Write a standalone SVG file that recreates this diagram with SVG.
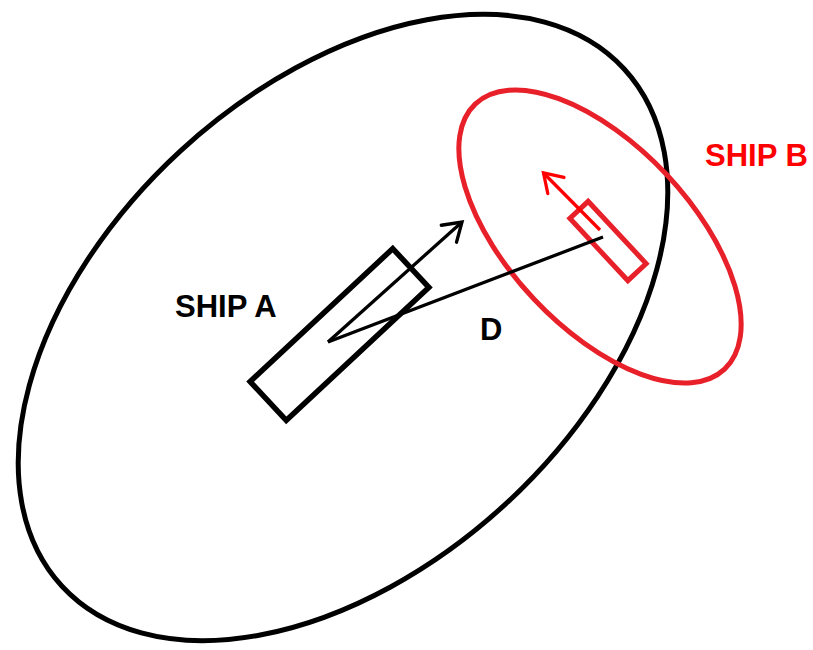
<svg xmlns="http://www.w3.org/2000/svg" width="813" height="650" viewBox="0 0 813 650">
  <style>
    .zoneA { fill: none; stroke: #000; stroke-width: 5; }
    .zoneB { fill: none; stroke: #e8202a; stroke-width: 5; }
    .shipA { fill: none; stroke: #000; stroke-width: 5.5; stroke-linejoin: miter; }
    .shipB { fill: none; stroke: #e8202a; stroke-width: 5; stroke-linejoin: miter; }
    .conn { fill: none; stroke: #000; stroke-width: 3.3; }
    .connB { fill: none; stroke: #ff0000; stroke-width: 3.3; }
    .lbl { font-family: "Liberation Sans", Arial, sans-serif; font-weight: bold; font-size: 31px; }
  </style>
  <defs>
    <marker id="arrBlack" markerUnits="userSpaceOnUse" markerWidth="40" markerHeight="40" refX="0" refY="0" viewBox="-25 -20 30 40" orient="auto" overflow="visible">
      <path d="M-17.6,-11.4 L0,0 L-17.6,11.4" fill="none" stroke="#000" stroke-width="3.3" stroke-linejoin="miter" stroke-linecap="round"/>
    </marker>
    <marker id="arrRed" markerUnits="userSpaceOnUse" markerWidth="40" markerHeight="40" refX="0" refY="0" viewBox="-25 -20 30 40" orient="auto" overflow="visible">
      <path d="M-17.6,-11.4 L0,0 L-17.6,11.4" fill="none" stroke="#ff0000" stroke-width="3.3" stroke-linejoin="miter" stroke-linecap="round"/>
    </marker>
  </defs>
  <rect width="813" height="650" fill="#fff"/>
  <g id="zoneA">
    <ellipse class="zoneA" cx="343" cy="327.5" rx="382" ry="240" transform="rotate(-42.6 343 327.5)"/>
  </g>
  <g id="zoneB">
    <ellipse class="zoneB" cx="600" cy="236.5" rx="182" ry="91" transform="rotate(46.8 600 236.5)"/>
  </g>
  <g id="shipA">
    <rect class="shipA" x="242" y="308" width="195" height="53" transform="rotate(-43 339.5 334.5)"/>
  </g>
  <g id="shipB">
    <rect class="shipB" x="565.5" y="228.5" width="85" height="25" transform="rotate(47 608 241)"/>
  </g>
  <g id="connectors">
    <line class="conn" x1="328" y1="342" x2="462" y2="222" marker-end="url(#arrBlack)"/>
    <line class="conn" x1="328" y1="342" x2="603" y2="237"/>
    <line class="connB" x1="600" y1="230" x2="543.5" y2="173" marker-end="url(#arrRed)"/>
  </g>
  <g id="labels">
    <text class="lbl" x="175" y="317" fill="#000">SHIP A</text>
    <text class="lbl" x="705" y="166" fill="#ff0000">SHIP B</text>
    <text class="lbl" x="480" y="340" fill="#000">D</text>
  </g>
</svg>
